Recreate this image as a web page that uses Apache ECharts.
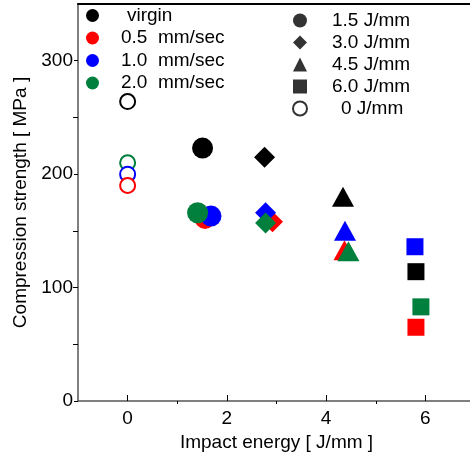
<html lang="en">
<head>
    <meta charset="UTF-8">
    <title>Compression strength</title>
    <script type="text/javascript" src="https://cdn.jsdelivr.net/npm/echarts@6/dist/echarts.min.js"></script>
    <style>
        body { margin: 0; }
        #chart { width: 470px; height: 454px; }
    </style>
</head>
<body>
<div id="chart"></div>
<script>
    // legend names
    var groupNames = ['virgin', '0.5 mm/sec', '1.0 mm/sec', '2.0 mm/sec'];
    var energyNames = ['1.5 J/mm', '3.0 J/mm', '4.5 J/mm', '6.0 J/mm', '0 J/mm'];

    // impact energy [J/mm] and compression strength [MPa]
    var energyVirgin = [1.51, 2.76, 4.34, 5.81];
    var strengthVirgin = [223, 215, 180, 114];
    var energy05 = [1.56, 2.92, 4.37, 5.81];
    var strength05 = [161, 158, 133, 65];
    var energy10 = [1.68, 2.78, 4.38, 5.79];
    var strength10 = [163, 166, 150, 136];
    var energy20 = [1.41, 2.78, 4.45, 5.91];
    var strength20 = [166, 157, 132, 83];

    // 0 J/mm (open circles), same order as groupNames
    var strengthAtZero = [264, 190, 200, 210];

    var xTicks = [0, 2, 4, 6];
    var xMinorTicks = [1, 3, 5];
    var yTicksOut = [0, 200, 300];
    var yTicksIn = [50, 100, 150, 250];
    var yLabels = [0, 100, 200, 300];

    var colors = ['#000000', '#ff0000', '#0000ff', '#00803c'];
    var shapes = ['circle', 'diamond', 'triangle', 'rect'];
    var shapeSizes = [21, 21, [22, 20], 17];
    var font = 'Liberation Sans, Arial, sans-serif';

    function points(xs, ys) {
        return xs.map(function (x, i) {
            return {value: [x, ys[i]], symbol: shapes[i], symbolSize: shapeSizes[i]};
        });
    }

    var filled = [
        points(energyVirgin, strengthVirgin),
        points(energy05, strength05),
        points(energy10, strength10),
        points(energy20, strength20)
    ];

    var series = [];
    // open circles at 0 J/mm, green below blue below red
    [0, 3, 2, 1].forEach(function (g) {
        series.push({
            name: 'zero ' + groupNames[g],
            type: 'scatter',
            symbol: 'circle',
            symbolSize: 15,
            itemStyle: {color: '#ffffff', borderColor: colors[g], borderWidth: 2, opacity: 1},
            data: [[0, strengthAtZero[g]]]
        });
    });
    filled.forEach(function (d, g) {
        series.push({
            name: groupNames[g],
            type: 'scatter',
            itemStyle: {color: colors[g], opacity: 1},
            data: d
        });
    });
    // empty series only for the shape legend
    energyNames.forEach(function (n, i) {
        series.push({
            name: n,
            type: 'scatter',
            symbol: i < 4 ? shapes[i] : 'circle',
            itemStyle: {color: '#000000'},
            data: []
        });
    });

    var mychart = echarts.init(document.getElementById('chart'));
    var option = {
        animation: false,
        grid: {left: 78, top: 4, right: -5, bottom: 53, outerBoundsMode: 'none'},
        legend: [{
            left: 86,
            top: 6,
            padding: 0,
            orient: 'vertical',
            itemWidth: 13,
            itemHeight: 13,
            itemGap: 3.5,
            selectedMode: false,
            icon: 'circle',
            data: groupNames,
            formatter: function (name) {
                return name === 'virgin' ? '{v|' + name + '}' : '{t|' + name.replace(' ', '  ') + '}';
            },
            textStyle: {
                fontFamily: font, fontSize: 19, color: '#000',
                rich: {
                    t: {fontFamily: font, fontSize: 19, color: '#000', padding: [0, 0, 0, 17]},
                    v: {fontFamily: font, fontSize: 19, color: '#000', padding: [0, 0, 0, 23]}
                }
            }
        }, {
            left: 292,
            top: 11,
            padding: 0,
            orient: 'vertical',
            itemWidth: 14,
            itemHeight: 14,
            itemGap: 3,
            selectedMode: false,
            data: energyNames.map(function (n, i) {
                var item = {name: n, icon: i < 4 ? shapes[i] : 'circle'};
                if (i === 4) {
                    item.itemStyle = {color: '#ffffff', borderColor: '#000000', borderWidth: 2};
                }
                return item;
            }),
            formatter: function (name) {
                return name === '0 J/mm' ? '{z|' + name + '}' : '{t|' + name + '}';
            },
            textStyle: {
                fontFamily: font, fontSize: 19, color: '#000',
                rich: {
                    t: {fontFamily: font, fontSize: 19, color: '#000', padding: [0, 0, 0, 20]},
                    z: {fontFamily: font, fontSize: 19, color: '#000', padding: [0, 0, 0, 29]}
                }
            }
        }],
        xAxis: [{
            type: 'value',
            min: -1,
            max: 7,
            position: 'bottom',
            name: 'Impact energy [ J/mm ]',
            nameLocation: 'middle',
            nameGap: 30,
            nameTextStyle: {fontFamily: font, fontSize: 19, color: '#000'},
            splitLine: {show: false},
            axisLine: {onZero: false, lineStyle: {color: '#555555', width: 1.5}},
            axisTick: {inside: true, length: 6, customValues: xTicks, lineStyle: {color: '#000'}},
            axisLabel: {customValues: xTicks, margin: 8, fontFamily: font, fontSize: 19, color: '#000'}
        }, {
            // minor x ticks, pinned to y = 0 (the bottom edge)
            type: 'value',
            min: -1,
            max: 7,
            splitLine: {show: false},
            axisLine: {show: false, onZero: true, onZeroAxisIndex: 0},
            axisTick: {inside: true, length: 3, customValues: xMinorTicks, lineStyle: {color: '#000'}},
            axisLabel: {show: false}
        }, {
            type: 'value',
            min: -1,
            max: 7,
            position: 'top',
            splitLine: {show: false},
            axisLine: {show: true, onZero: false, lineStyle: {color: '#000', width: 2}},
            axisTick: {show: false},
            axisLabel: {show: false}
        }, {
            // helper: its 0 sits on the left edge
            type: 'value',
            min: 0,
            max: 8,
            show: false
        }],
        yAxis: [{
            type: 'value',
            min: 0,
            max: 350,
            position: 'left',
            name: 'Compression strength [ MPa ]',
            nameLocation: 'middle',
            nameGap: 44,
            nameTextStyle: {fontFamily: font, fontSize: 19, color: '#000'},
            splitLine: {show: false},
            axisLine: {show: true, onZero: false, lineStyle: {color: '#555555', width: 1.5}},
            axisTick: {inside: false, length: 4, customValues: yTicksOut, lineStyle: {color: '#000'}},
            axisLabel: {customValues: yLabels, margin: 5, fontFamily: font, fontSize: 19, color: '#000'}
        }, {
            // inward y ticks, pinned to the left edge
            type: 'value',
            min: 0,
            max: 350,
            splitLine: {show: false},
            axisLine: {show: false, onZero: true, onZeroAxisIndex: 3},
            axisTick: {inside: true, length: 5, customValues: yTicksIn, lineStyle: {color: '#000'}},
            axisLabel: {show: false}
        }],
        series: series
    };
    mychart.setOption(option);
</script>
</body>
</html>
